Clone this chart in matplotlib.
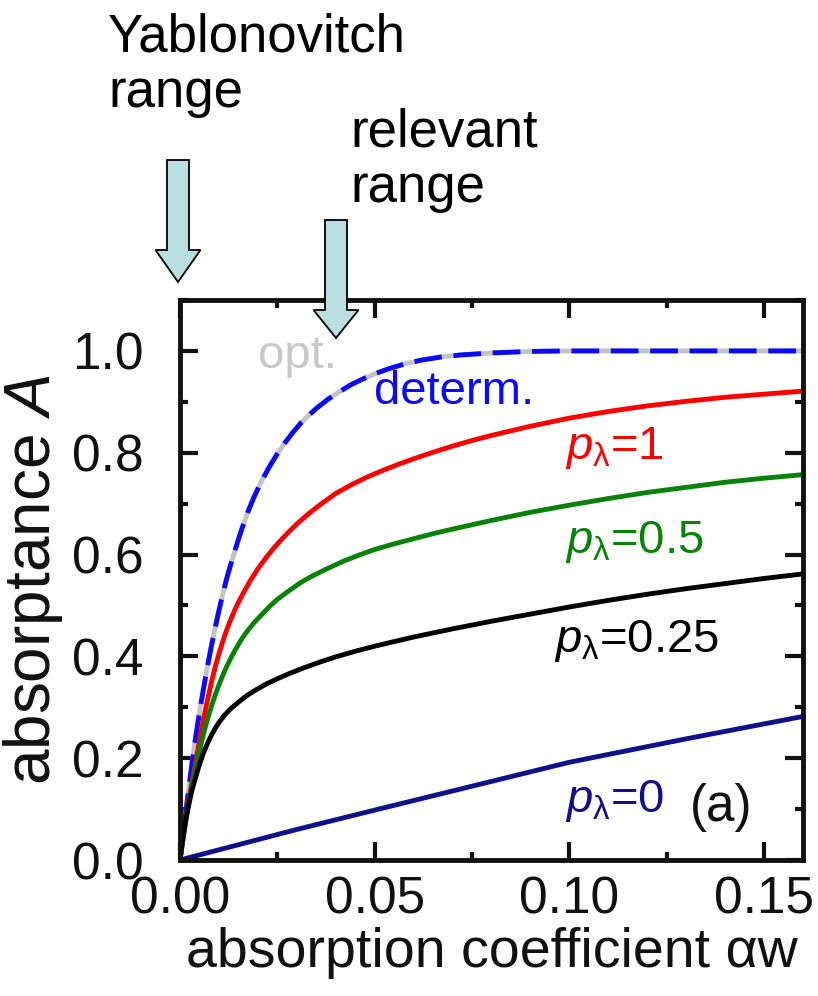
import numpy as np
import matplotlib.pyplot as plt
from matplotlib.patches import FancyArrow
from matplotlib.ticker import MultipleLocator, FormatStrFormatter

plt.rcParams['font.family'] = ['Liberation Sans', 'DejaVu Sans']
plt.rcParams['mathtext.fontset'] = 'custom'
plt.rcParams['mathtext.it'] = 'Liberation Sans:italic'
plt.rcParams['mathtext.rm'] = 'Liberation Sans'

# deterministic / optimal limit (blue dashed over grey)
x_det = [0, 0.001, 0.002, 0.003, 0.004, 0.005, 0.006, 0.007, 0.008, 0.009, 0.010,
         0.011, 0.012, 0.013, 0.014, 0.015, 0.016, 0.0175, 0.019, 0.021, 0.023,
         0.025, 0.027, 0.029, 0.031, 0.033, 0.035, 0.038, 0.041, 0.044, 0.047,
         0.050, 0.054, 0.058, 0.062, 0.067, 0.072, 0.08, 0.09, 0.1, 0.12, 0.14, 0.16]
A_det = [0, 0.065, 0.125, 0.185, 0.24, 0.29, 0.335, 0.378, 0.418, 0.455, 0.49,
         0.523, 0.553, 0.58, 0.605, 0.63, 0.653, 0.685, 0.713, 0.745, 0.773,
         0.798, 0.82, 0.84, 0.858, 0.873, 0.887, 0.905, 0.92, 0.934, 0.945,
         0.955, 0.966, 0.975, 0.982, 0.988, 0.992, 0.996, 0.999, 1.0, 1.0, 1.0, 1.0]

# p_lambda = 1
x_p1 = [0, 0.001, 0.002, 0.003, 0.004, 0.005, 0.006, 0.007, 0.008, 0.009, 0.010,
        0.011, 0.012, 0.013, 0.014, 0.015, 0.0165, 0.018, 0.020, 0.022, 0.024,
        0.026, 0.028, 0.030, 0.033, 0.036, 0.040, 0.044, 0.048, 0.052, 0.056,
        0.060, 0.065, 0.070, 0.075, 0.080, 0.090, 0.100, 0.110, 0.120, 0.130,
        0.140, 0.150, 0.160]
A_p1 = [0, 0.055, 0.105, 0.15, 0.19, 0.235, 0.275, 0.312, 0.347, 0.378, 0.405,
        0.43, 0.452, 0.472, 0.49, 0.506, 0.528, 0.548, 0.572, 0.593, 0.612,
        0.629, 0.645, 0.66, 0.68, 0.698, 0.72, 0.737, 0.752, 0.765, 0.777,
        0.788, 0.801, 0.813, 0.824, 0.834, 0.852, 0.868, 0.881, 0.892, 0.901,
        0.909, 0.915, 0.921]

# p_lambda = 0.5
x_p05 = [0, 0.001, 0.002, 0.003, 0.004, 0.005, 0.006, 0.007, 0.008, 0.009, 0.010,
         0.011, 0.012, 0.013, 0.014, 0.0155, 0.017, 0.019, 0.021, 0.023, 0.025,
         0.028, 0.031, 0.034, 0.038, 0.042, 0.046, 0.050, 0.055, 0.060, 0.065,
         0.070, 0.080, 0.090, 0.100, 0.110, 0.120, 0.130, 0.140, 0.150, 0.160]
A_p05 = [0, 0.052, 0.10, 0.142, 0.18, 0.215, 0.247, 0.275, 0.30, 0.323, 0.344,
         0.363, 0.38, 0.396, 0.41, 0.43, 0.447, 0.466, 0.482, 0.498, 0.512,
         0.529, 0.545, 0.558, 0.573, 0.587, 0.599, 0.61, 0.621, 0.631, 0.641,
         0.65, 0.667, 0.683, 0.697, 0.71, 0.722, 0.732, 0.742, 0.75, 0.757]

# p_lambda = 0.25
x_p025 = [0, 0.0005, 0.001, 0.0015, 0.002, 0.003, 0.004, 0.005, 0.006, 0.007,
          0.008, 0.009, 0.010, 0.0115, 0.013, 0.015, 0.017, 0.019, 0.022, 0.025,
          0.028, 0.032, 0.036, 0.040, 0.045, 0.050, 0.055, 0.060, 0.070, 0.080,
          0.090, 0.100, 0.110, 0.120, 0.130, 0.140, 0.150, 0.160]
A_p025 = [0, 0.03, 0.057, 0.08, 0.10, 0.135, 0.162, 0.188, 0.21, 0.228,
          0.244, 0.258, 0.27, 0.285, 0.297, 0.31, 0.322, 0.332, 0.345, 0.356,
          0.366, 0.378, 0.389, 0.399, 0.41, 0.42, 0.429, 0.438, 0.454, 0.469,
          0.483, 0.497, 0.51, 0.522, 0.533, 0.543, 0.553, 0.562]

# p_lambda = 0
x_p0 = [0, 0.03, 0.05, 0.075, 0.1, 0.13, 0.16]
A_p0 = [0, 0.06, 0.098, 0.145, 0.192, 0.238, 0.282]

W, H = 818, 996
fig = plt.figure(figsize=(W / 100, H / 100), dpi=100)
ax = fig.add_axes([180 / W, 1 - 860 / H, 623 / W, 560 / H])

lw = 3.5
ax.plot(x_det, A_det, color='#c4c4c4', lw=lw, solid_capstyle='butt')
ax.plot(x_det, A_det, color='#0a0aff', lw=lw, dashes=(5.7, 2.4))
ax.plot(x_p1, A_p1, color='#ff0000', lw=lw)
ax.plot(x_p05, A_p05, color='#0a820a', lw=lw)
ax.plot(x_p025, A_p025, color='black', lw=lw)
ax.plot(x_p0, A_p0, color='#10108a', lw=lw)

ax.set_xlim(0, 0.16)
ax.set_ylim(0, 1.1)
ax.xaxis.set_major_locator(MultipleLocator(0.05))
ax.xaxis.set_minor_locator(MultipleLocator(0.025))
ax.yaxis.set_major_locator(MultipleLocator(0.2))
ax.yaxis.set_minor_locator(MultipleLocator(0.1))
ax.xaxis.set_major_formatter(FormatStrFormatter('%.2f'))
ax.yaxis.set_major_formatter(FormatStrFormatter('%.1f'))
ax.tick_params(which='both', direction='in', top=True, right=True, width=3, colors='#111111')
ax.tick_params(which='major', length=13, labelsize=37, pad=11)
ax.tick_params(which='minor', length=6)
ax.tick_params(axis='y', which='major', pad=26)
for s in ax.spines.values():
    s.set_linewidth(3.5)
    s.set_color('#111111')

ax.set_xlabel('absorption coefficient αw', fontsize=40, labelpad=2, color='#111111')
ax.set_ylabel(r'absorptance $A$', fontsize=46, labelpad=5, color='#111111')

fs = 34
lam = r'$p_{\mathrm{\lambda}}$'
ax.text(0.020, 0.99, 'opt.', color='#c8c8c8', fontsize=fs, va='center', ha='left')
ax.text(0.0497, 0.92, 'determ.', color='#0a0aff', fontsize=fs, va='center', ha='left')
ax.text(0.099, 0.81, lam + '=1', color='#ff0000', fontsize=fs, va='center', ha='left')
ax.text(0.099, 0.625, lam + '=0.5', color='#0a820a', fontsize=fs, va='center', ha='left')
ax.text(0.096, 0.43, lam + '=0.25', color='black', fontsize=fs, va='center', ha='left')
ax.text(0.099, 0.115, lam + '=0', color='#10108a', fontsize=fs, va='center', ha='left')
ax.text(0.147, 0.103, '(a)', color='#111111', fontsize=37, va='center', ha='right')

# overlay in pixel coordinates for the annotation arrows and headers
ov = fig.add_axes([0, 0, 1, 1], zorder=10)
ov.set_xlim(0, W)
ov.set_ylim(H, 0)
ov.axis('off')
ov.patch.set_alpha(0)
acol = '#b9dfe0'
ov.add_patch(FancyArrow(178, 160, 0, 122, width=22, head_width=45, head_length=32,
                        length_includes_head=True, fc=acol, ec='black', lw=1.3))
ov.add_patch(FancyArrow(336, 220, 0, 118, width=22, head_width=45, head_length=28,
                        length_includes_head=True, fc=acol, ec='black', lw=1.3))
ov.text(108, 12, 'Yablonovitch\nrange', fontsize=38, va='top', ha='left', linespacing=1.15)
ov.text(350, 107, 'relevant\nrange', fontsize=38, va='top', ha='left', linespacing=1.15)

plt.savefig('out.png', dpi=100)
